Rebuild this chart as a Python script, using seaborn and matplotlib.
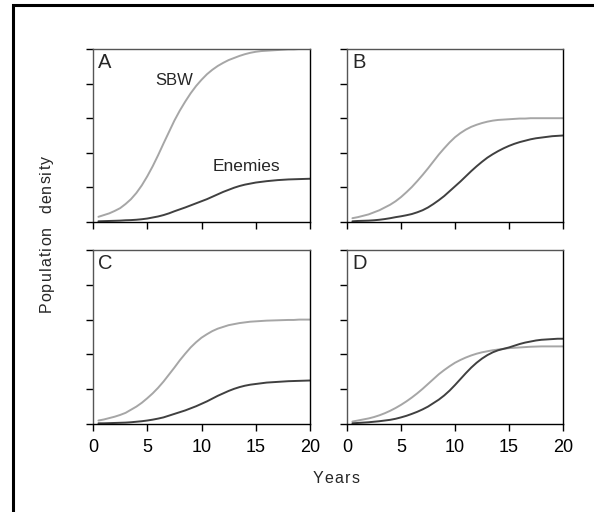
import matplotlib
matplotlib.use("Agg")
import matplotlib.pyplot as plt
import seaborn as sns
import pandas as pd
from matplotlib.patches import Rectangle

# values every half year (1 unit per y tick)
years = [0.5 * k for k in range(1, 41)]

sbw_a = [0.15, 0.20, 0.25, 0.32, 0.40, 0.52, 0.66, 0.84, 1.06, 1.32,
         1.61, 1.93, 2.27, 2.60, 2.93, 3.22, 3.48, 3.72, 3.93, 4.11,
         4.27, 4.40, 4.51, 4.60, 4.68, 4.74, 4.80, 4.85, 4.89, 4.92,
         4.94, 4.95, 4.96, 4.97, 4.98, 4.99, 4.99, 5.00, 5.00, 5.00]
enemies_a = [0.02, 0.025, 0.03, 0.035, 0.04, 0.05, 0.055, 0.065, 0.08, 0.10,
             0.13, 0.16, 0.20, 0.25, 0.31, 0.365, 0.42, 0.48, 0.54, 0.60,
             0.66, 0.73, 0.80, 0.87, 0.93, 0.99, 1.04, 1.08, 1.11, 1.14,
             1.16, 1.18, 1.195, 1.21, 1.22, 1.23, 1.235, 1.24, 1.245, 1.25]

sbw_b = [0.11, 0.14, 0.18, 0.22, 0.28, 0.34, 0.42, 0.50, 0.60, 0.72,
         0.86, 1.01, 1.18, 1.36, 1.55, 1.75, 1.95, 2.13, 2.30, 2.45,
         2.57, 2.67, 2.75, 2.81, 2.86, 2.90, 2.93, 2.95, 2.96, 2.97,
         2.98, 2.99, 2.99, 3.00, 3.00, 3.00, 3.00, 3.00, 3.00, 3.00]
enemies_b = [0.02, 0.03, 0.035, 0.04, 0.05, 0.065, 0.085, 0.11, 0.14, 0.165,
             0.195, 0.23, 0.28, 0.34, 0.42, 0.52, 0.63, 0.75, 0.89, 1.03,
             1.17, 1.32, 1.47, 1.61, 1.74, 1.86, 1.96, 2.05, 2.13, 2.20,
             2.26, 2.31, 2.35, 2.39, 2.42, 2.44, 2.46, 2.48, 2.49, 2.50]

sbw_c = [0.10, 0.13, 0.17, 0.21, 0.26, 0.32, 0.41, 0.50, 0.61, 0.74,
         0.88, 1.04, 1.22, 1.42, 1.62, 1.83, 2.02, 2.20, 2.35, 2.48,
         2.58, 2.67, 2.74, 2.79, 2.84, 2.87, 2.90, 2.92, 2.94, 2.95,
         2.96, 2.97, 2.975, 2.98, 2.985, 2.99, 2.99, 3.00, 3.00, 3.00]
enemies_c = [0.02, 0.02, 0.025, 0.03, 0.035, 0.04, 0.05, 0.065, 0.08, 0.10,
             0.125, 0.155, 0.19, 0.24, 0.29, 0.34, 0.39, 0.45, 0.51, 0.58,
             0.65, 0.73, 0.81, 0.88, 0.95, 1.01, 1.06, 1.10, 1.13, 1.15,
             1.17, 1.19, 1.20, 1.21, 1.22, 1.23, 1.235, 1.24, 1.245, 1.25]

sbw_d = [0.07, 0.10, 0.13, 0.16, 0.20, 0.25, 0.31, 0.38, 0.46, 0.55,
         0.65, 0.76, 0.88, 1.01, 1.15, 1.29, 1.43, 1.55, 1.66, 1.76,
         1.84, 1.91, 1.97, 2.02, 2.06, 2.09, 2.12, 2.14, 2.16, 2.18,
         2.19, 2.20, 2.21, 2.22, 2.225, 2.23, 2.23, 2.23, 2.23, 2.23]
enemies_d = [0.02, 0.03, 0.04, 0.05, 0.065, 0.08, 0.10, 0.12, 0.15, 0.19,
             0.235, 0.29, 0.35, 0.42, 0.50, 0.60, 0.70, 0.82, 0.96, 1.12,
             1.29, 1.46, 1.62, 1.76, 1.88, 1.98, 2.06, 2.12, 2.16, 2.20,
             2.25, 2.30, 2.34, 2.37, 2.40, 2.42, 2.43, 2.44, 2.45, 2.45]

panel_letters = ["A", "B", "C", "D"]
x_ticks = [0, 5, 10, 15, 20]
y_ticks = [0, 1, 2, 3, 4, 5]

sbw_color = "#a6a6a6"
enemy_color = "#404040"

sns.set_style("ticks")
plt.rcParams["font.family"] = ["Liberation Sans", "DejaVu Sans"]

W, H = 594, 512
fig = plt.figure(figsize=(W / 100, H / 100), dpi=100)


def spaced_text(s, x_px, y_px, size, gap_px, vertical=False):
    '''
    Draws letter-spaced text, one character at a time.
    x_px, y_px: centre of the baseline, in pixels from the top-left.
    '''
    r = fig.canvas.get_renderer()
    widths = []
    for ch in s:
        if ch == " ":
            widths.append(0.28 * size * 100 / 72)
            continue
        t = fig.text(0, 0, ch, fontsize=size)
        widths.append(t.get_window_extent(r).width)
        t.remove()
    total = sum(widths) + gap_px * (len(s) - 1)
    pos = -total / 2
    for ch, w in zip(s, widths):
        c = pos + w / 2
        if vertical:
            fig.text(x_px / W, 1 - (y_px - c) / H, ch, fontsize=size,
                     rotation=90, rotation_mode="anchor",
                     ha="center", va="baseline")
        else:
            fig.text((x_px + c) / W, 1 - y_px / H, ch, fontsize=size,
                     ha="center", va="baseline")
        pos += w + gap_px


# axes boxes in pixels: left, top, right, bottom
boxes = [(93, 49, 310, 222), (347, 49, 563, 222),
         (93, 250, 310, 424), (347, 250, 563, 424)]
series = [(sbw_a, enemies_a), (sbw_b, enemies_b),
          (sbw_c, enemies_c), (sbw_d, enemies_d)]

for i, (box, (sbw, en)) in enumerate(zip(boxes, series)):
    l, t, r, b = box
    ax = fig.add_axes([l / W, 1 - b / H, (r - l) / W, (b - t) / H])
    df = pd.DataFrame({"year": years, "SBW": sbw, "Enemies": en})
    sns.lineplot(data=df, x="year", y="SBW", color=sbw_color, lw=1.4, ax=ax)
    sns.lineplot(data=df, x="year", y="Enemies", color=enemy_color, lw=1.4, ax=ax)
    ax.set_xlim(0, 20)
    ax.set_ylim(0, 5)
    ax.set_xticks(x_ticks)
    ax.set_yticks(y_ticks)
    ax.set_yticklabels([])
    if i < 2:
        ax.set_xticklabels([])
    ax.tick_params(direction="out", length=5, width=1, colors="black",
                   labelsize=13, pad=6)
    ax.set_xlabel("")
    ax.set_ylabel("")
    for side in ["top", "left"]:
        ax.spines[side].set_color("#555555")
    for side in ["bottom", "right"]:
        ax.spines[side].set_color("black")
    for sp in ax.spines.values():
        sp.set_linewidth(1)
    ax.text(0.025, 0.975, panel_letters[i], transform=ax.transAxes,
            fontsize=14.5, ha="left", va="top")
    if i == 0:
        ax.text(7.52, 4.08, "SBW", fontsize=12, ha="center", va="center")
        ax.text(14.1, 1.6, "Enemies", fontsize=12.5, ha="center", va="center")

spaced_text("Years", 336, 483, 11.5, 1.2)
spaced_text("Population  density", 51, 234, 11.5, 1.2, vertical=True)

# outer frame, cut off at the right and bottom like the reference
fig.patches.append(Rectangle((12.5 / W, -0.1), 1.2, 1 - 4.5 / H + 0.1,
                             transform=fig.transFigure, fill=False,
                             edgecolor="black", lw=2.2))

fig.savefig("out.png", dpi=100)
